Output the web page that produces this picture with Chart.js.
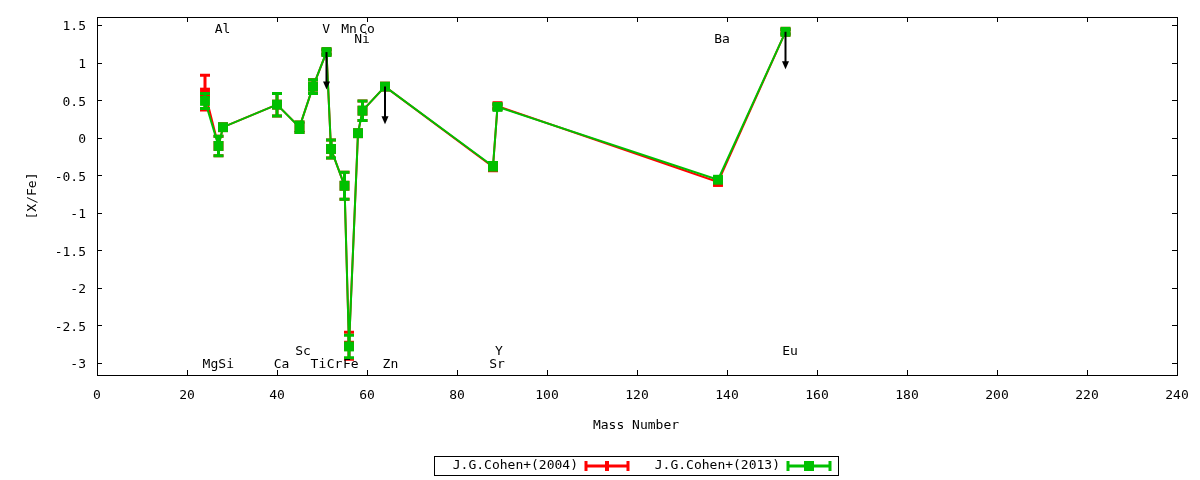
<!DOCTYPE html>
<html>
<head>
<meta charset="utf-8">
<script src="https://cdn.jsdelivr.net/npm/chart.js@4.4.1/dist/chart.umd.min.js"></script>
<style>
html, body { margin: 0; padding: 0; background: #fff; }
</style>
</head>
<body>
<canvas id="abundance_chart" width="1200" height="480"></canvas>
<script>
// element abundances vs mass number
var elements     = ['Mg', 'Al', 'Si', 'Ca', 'Sc', 'Ti', 'V', 'Cr', 'Mn', 'Fe', 'Ni', 'Co', 'Zn', 'Sr', 'Y', 'Ba', 'Eu'];
var massNumbers  = [24, 27, 28, 40, 45, 48, 51, 52, 55, 56, 58, 59, 64, 88, 89, 138, 153];
var cohen2004    = [0.60, -0.11, 0.14, 0.44, 0.14, 0.68, 1.14, -0.15, -0.64, -2.77, 0.06, 0.36, 0.68, -0.39, 0.42, -0.59, 1.41];
var cohen2004Err = [0.23, 0.13, 0.03, 0.15, 0.07, 0.09, 0.03, 0.12, 0.18, 0.18, 0.03, 0.13, 0.03, 0.05, 0.03, 0.03, 0.03];
var cohen2013    = [0.49, -0.11, 0.14, 0.44, 0.14, 0.68, 1.14, -0.15, -0.64, -2.78, 0.06, 0.36, 0.68, -0.38, 0.41, -0.56, 1.41];
var cohen2013Err = [0.10, 0.13, 0.03, 0.15, 0.07, 0.09, 0.03, 0.12, 0.18, 0.15, 0.03, 0.13, 0.03, 0.05, 0.03, 0.03, 0.03];
var upperLimits  = ['V', 'Zn', 'Eu'];
var limitLength  = 0.5;

var xTicks = [0, 20, 40, 60, 80, 100, 120, 140, 160, 180, 200, 220, 240];
var yTicks = [-3, -2.5, -2, -1.5, -1, -0.5, 0, 0.5, 1, 1.5];

// element name labels (data coordinates)
var labelText  = ['Al', 'V', 'Mn', 'Co', 'Ni', 'Ba', 'Sc', 'Y', 'Eu', 'Mg', 'Si', 'Ca', 'Ti', 'Cr', 'Fe', 'Zn', 'Sr'];
var labelMass  = [27.9, 50.9, 56.0, 60.0, 58.9, 138.9, 45.8, 89.3, 154.0, 25.2, 28.7, 41.0, 49.2, 52.8, 56.4, 65.2, 88.9];
var labelValue = [1.46, 1.46, 1.46, 1.46, 1.33, 1.33, -2.82, -2.82, -2.82, -3.0, -3.0, -3.0, -3.0, -3.0, -3.0, -3.0, -3.0];

var FONT = '"DejaVu Sans Mono", "Liberation Mono", monospace';
var RED = '#ff0000';
var GREEN = '#00c000';
var TEXT_DY = 2; // canvas 'middle' baseline sits a bit high

function points(values) {
    var out = [];
    for (var i = 0; i < massNumbers.length; i++) {
        out.push({ x: massNumbers[i], y: values[i] });
    }
    return out;
}

// border, inward ticks (gnuplot style) and tick labels
var frame = {
    id: 'frame',
    beforeDatasetsDraw: function (chart) {
        var ctx = chart.ctx, a = chart.chartArea;
        var xs = chart.scales.x, ys = chart.scales.y;
        ctx.save();
        ctx.strokeStyle = '#000';
        ctx.lineWidth = 1;
        ctx.strokeRect(Math.round(a.left) + 0.5, Math.round(a.top) + 0.5,
            Math.round(a.right - a.left), Math.round(a.bottom - a.top));
        ctx.beginPath();
        xTicks.forEach(function (v) {
            var px = Math.round(xs.getPixelForValue(v)) + 0.5;
            ctx.moveTo(px, a.bottom); ctx.lineTo(px, a.bottom - 5);
            ctx.moveTo(px, a.top); ctx.lineTo(px, a.top + 5);
        });
        yTicks.forEach(function (v) {
            var py = Math.round(ys.getPixelForValue(v)) + 0.5;
            ctx.moveTo(a.left, py); ctx.lineTo(a.left + 5, py);
            ctx.moveTo(a.right, py); ctx.lineTo(a.right - 5, py);
        });
        ctx.stroke();

        ctx.font = '13px ' + FONT;
        ctx.fillStyle = '#000';
        ctx.textBaseline = 'middle';
        ctx.textAlign = 'center';
        xTicks.forEach(function (v) {
            ctx.fillText(String(v), xs.getPixelForValue(v), a.bottom + 19 + TEXT_DY);
        });
        ctx.textAlign = 'right';
        yTicks.forEach(function (v) {
            ctx.fillText(String(v), a.left - 11, ys.getPixelForValue(v) + TEXT_DY);
        });
        ctx.restore();
    }
};

var errorBars = {
    id: 'errorBars',
    afterDatasetDraw: function (chart, args) {
        var ds = chart.data.datasets[args.index];
        var ys = chart.scales.y, ctx = chart.ctx;
        ctx.save();
        ctx.strokeStyle = ds.borderColor;
        ctx.lineWidth = 3;
        ctx.beginPath();
        args.meta.data.forEach(function (pt, i) {
            var v = ds.data[i].y, e = ds.errors[i];
            var top = ys.getPixelForValue(v + e), bot = ys.getPixelForValue(v - e);
            ctx.moveTo(pt.x, top); ctx.lineTo(pt.x, bot);
            ctx.moveTo(pt.x - 5, top); ctx.lineTo(pt.x + 5, top);
            ctx.moveTo(pt.x - 5, bot); ctx.lineTo(pt.x + 5, bot);
        });
        ctx.stroke();
        ctx.restore();
    }
};

var annotations = {
    id: 'annotations',
    afterDatasetsDraw: function (chart) {
        var ctx = chart.ctx, xs = chart.scales.x, ys = chart.scales.y;
        ctx.save();
        // upper limit arrows
        ctx.strokeStyle = '#000';
        ctx.fillStyle = '#000';
        ctx.lineWidth = 2;
        upperLimits.forEach(function (el) {
            var i = elements.indexOf(el);
            var px = xs.getPixelForValue(massNumbers[i]);
            var y0 = ys.getPixelForValue(cohen2013[i]);
            var y1 = ys.getPixelForValue(cohen2013[i] - limitLength);
            ctx.beginPath();
            ctx.moveTo(px, y0); ctx.lineTo(px, y1 - 6);
            ctx.stroke();
            ctx.beginPath();
            ctx.moveTo(px - 3.5, y1 - 8); ctx.lineTo(px + 3.5, y1 - 8); ctx.lineTo(px, y1);
            ctx.closePath();
            ctx.fill();
        });
        // element names
        ctx.font = '13px ' + FONT;
        ctx.fillStyle = '#000';
        ctx.textAlign = 'center';
        ctx.textBaseline = 'middle';
        for (var j = 0; j < labelText.length; j++) {
            ctx.fillText(labelText[j], xs.getPixelForValue(labelMass[j]),
                ys.getPixelForValue(labelValue[j]) + TEXT_DY);
        }
        ctx.restore();
    },
    afterDraw: function (chart) {
        var ctx = chart.ctx;
        ctx.save();
        ctx.font = '13px ' + FONT;
        ctx.fillStyle = '#000';
        ctx.textBaseline = 'middle';
        ctx.textAlign = 'center';
        ctx.fillText('Mass Number', 636, 426);
        ctx.save();
        ctx.translate(33, 196);
        ctx.rotate(-Math.PI / 2);
        ctx.fillText('[X/Fe]', 0, 0);
        ctx.restore();

        // legend box
        ctx.strokeStyle = '#000';
        ctx.lineWidth = 1;
        ctx.strokeRect(434.5, 456.5, 404, 19);
        ctx.textAlign = 'right';
        ctx.fillText(chart.data.datasets[1].label, 578, 466);
        ctx.fillText(chart.data.datasets[0].label, 780, 466);
        drawKey(ctx, 586, 628, 466, RED, false);
        drawKey(ctx, 788, 830, 466, GREEN, true);
        ctx.restore();
    }
};

function drawKey(ctx, x0, x1, y, color, square) {
    ctx.strokeStyle = color;
    ctx.fillStyle = color;
    ctx.lineWidth = 3;
    ctx.beginPath();
    ctx.moveTo(x0, y); ctx.lineTo(x1, y);
    ctx.moveTo(x0, y - 5); ctx.lineTo(x0, y + 5);
    ctx.moveTo(x1, y - 5); ctx.lineTo(x1, y + 5);
    ctx.stroke();
    var xm = (x0 + x1) / 2;
    if (square) {
        ctx.fillRect(xm - 5, y - 5, 10, 10);
    } else {
        ctx.fillRect(xm - 2, y - 5, 4, 10);
    }
}

var ctx = document.getElementById('abundance_chart');

var abundanceChart = new Chart(ctx, {
    type: 'scatter',
    data: {
        datasets: [
            {
                label: 'J.G.Cohen+(2013)',
                data: points(cohen2013),
                errors: cohen2013Err,
                borderColor: GREEN,
                backgroundColor: GREEN,
                showLine: true,
                borderWidth: 2,
                pointStyle: 'rect',
                pointRadius: 7,
                pointBorderWidth: 0,
                order: 0
            },
            {
                label: 'J.G.Cohen+(2004)',
                data: points(cohen2004),
                errors: cohen2004Err,
                borderColor: RED,
                backgroundColor: RED,
                showLine: true,
                borderWidth: 2,
                pointStyle: 'rect',
                pointRadius: 7,
                pointBorderWidth: 0,
                order: 1
            }
        ]
    },
    options: {
        responsive: false,
        animation: false,
        events: [],
        devicePixelRatio: 1,
        layout: { padding: { top: 17, right: 23, left: 0, bottom: 0 } },
        plugins: {
            legend: { display: false },
            tooltip: { enabled: false }
        },
        scales: {
            x: {
                type: 'linear',
                min: 0,
                max: 240,
                afterBuildTicks: function (s) { s.ticks = xTicks.map(function (v) { return { value: v }; }); },
                afterFit: function (s) { s.height = 105; },
                grid: { display: false, drawTicks: false },
                border: { display: false },
                ticks: { display: false }
            },
            y: {
                type: 'linear',
                min: -3.16,
                max: 1.607,
                afterBuildTicks: function (s) { s.ticks = yTicks.map(function (v) { return { value: v }; }); },
                afterFit: function (s) { s.width = 97; },
                grid: { display: false, drawTicks: false },
                border: { display: false },
                ticks: { display: false }
            }
        }
    },
    plugins: [frame, errorBars, annotations]
});
</script>
</body>
</html>
